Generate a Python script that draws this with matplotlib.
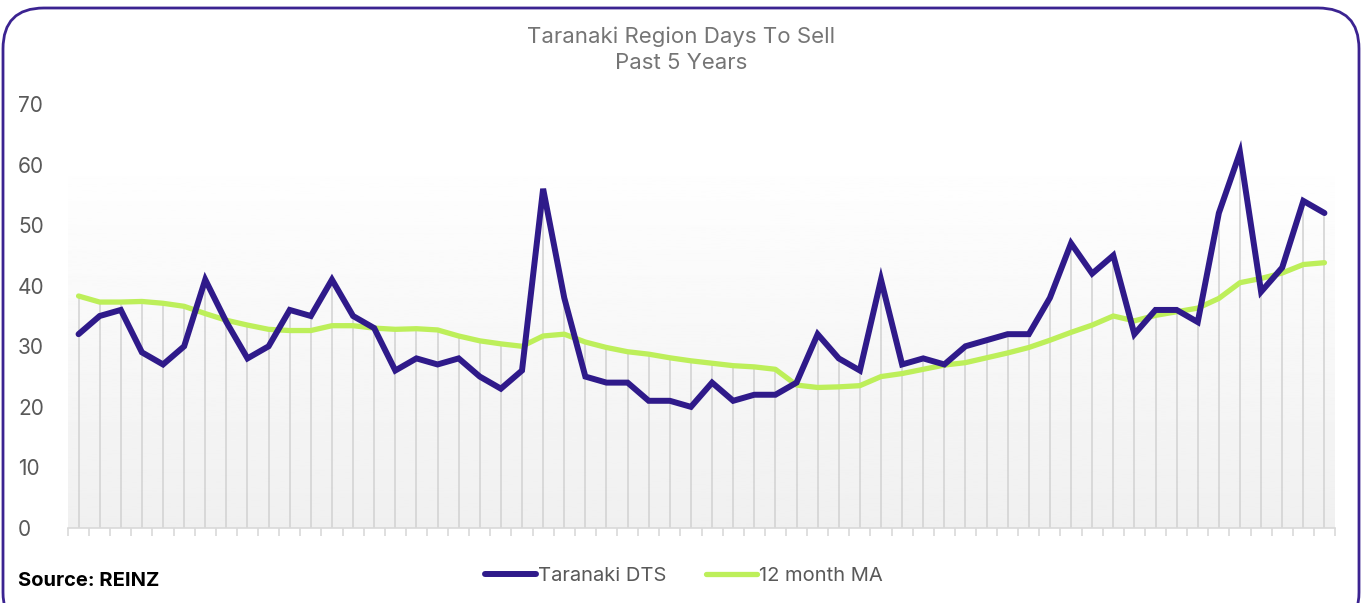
import numpy as np
import matplotlib
matplotlib.use("Agg")
import matplotlib.pyplot as plt
from matplotlib.patches import FancyBboxPatch

# monthly values (60 months)
dts = [32, 35, 36, 29, 27, 30, 41, 34, 28, 30,
       36, 35, 41, 35, 33, 26, 28, 27, 28, 25,
       23, 26, 56, 38, 25, 24, 24, 21, 21, 20,
       24, 21, 22, 22, 24, 32, 28, 26, 41, 27,
       28, 27, 30, 31, 32, 32, 38, 47, 42, 45,
       32, 36, 36, 34, 52, 62, 39, 43, 54, 52]
ma12 = [38.3, 37.3, 37.3, 37.4, 37.1, 36.6, 35.4, 34.3, 33.5, 32.8,
        32.6, 32.6, 33.4, 33.4, 33.0, 32.8, 32.9, 32.7, 31.7, 30.9,
        30.4, 30.0, 31.7, 32.0, 30.7, 29.8, 29.1, 28.7, 28.1, 27.6,
        27.2, 26.8, 26.6, 26.2, 23.6, 23.2, 23.3, 23.5, 25.0, 25.5,
        26.2, 26.9, 27.3, 28.1, 28.9, 29.8, 31.0, 32.3, 33.5, 35.0,
        34.2, 35.1, 35.7, 36.3, 37.9, 40.5, 41.2, 42.1, 43.5, 43.8]
yticks = [0, 10, 20, 30, 40, 50, 60, 70]

purple = "#2f1a8a"
green = "#bdef5a"
grey_txt = "#757575"

plt.rcParams['font.family'] = ['Inter', 'DejaVu Sans']

fig = plt.figure(figsize=(13.62, 6.03), dpi=100)
ax = fig.add_axes([68 / 1362, 75 / 603, (1335 - 68) / 1362, (528 - 104) / 603])

x = np.arange(len(dts))
ax.set_xlim(-0.5, len(dts) - 0.5)
ax.set_ylim(0, 70)

# gradient plot background
grad = np.linspace(0.94, 1.0, 256).reshape(-1, 1)
ax.imshow(grad, extent=[-0.5, len(dts) - 0.5, 0, 62], origin="lower",
          cmap="gray", vmin=0, vmax=1, aspect="auto", zorder=0)

# drop lines
tops = np.maximum(dts, ma12)
ax.vlines(x, 0, tops, color="#d4d4d4", lw=1.2, zorder=1)

ax.plot(x, ma12, color=green, lw=3.8, solid_capstyle="round", zorder=3, label="12 month MA")
ax.plot(x, dts, color=purple, lw=4.3, solid_capstyle="round", solid_joinstyle="miter",
        zorder=4, label="Taranaki DTS")

for s in ["top", "right", "left"]:
    ax.spines[s].set_visible(False)
ax.spines["bottom"].set_color("#d9d9d9")
ax.spines["bottom"].set_linewidth(1.2)

ax.set_xticks(np.arange(-0.5, len(dts), 1))
ax.set_xticklabels([])
ax.tick_params(axis="x", length=6, color="#d9d9d9", width=1.2)
ax.set_yticks(yticks)
ax.set_yticklabels([str(v) for v in yticks])
ax.tick_params(axis="y", length=0, labelsize=15, labelcolor="#595959", pad=0)
for lab in ax.get_yticklabels():
    lab.set_horizontalalignment("left")
    lab.set_x(-50 / 1267)

fig.text(681 / 1362, 1 - 37 / 603, "Taranaki Region Days To Sell", ha="center", va="center",
         fontsize=16, color=grey_txt)
fig.text(681 / 1362, 1 - 63 / 603, "Past 5 Years", ha="center", va="center",
         fontsize=16, color=grey_txt)

handles, labels = ax.get_legend_handles_labels()
fig.legend(handles[::-1], labels[::-1], loc="center", bbox_to_anchor=(684 / 1362, 1 - 576 / 603),
           ncol=2, frameon=False, fontsize=14.5, labelcolor="#595959",
           handlelength=2.5, handletextpad=0.1, columnspacing=2.0)

fig.text(18 / 1362, 1 - 581 / 603, "Source: REINZ", ha="left", va="center",
         fontsize=14.5, fontweight="bold", color="black")

border = FancyBboxPatch((3 / 1362, -0.05), 1356 / 1362, 1 - 8 / 603 + 0.05,
                        boxstyle="round,pad=0,rounding_size=0.03",
                        transform=fig.transFigure, fill=False, edgecolor="#3b2391",
                        lw=2, mutation_aspect=1362 / 603)
fig.patches.append(border)

fig.savefig("out.png", dpi=100)
